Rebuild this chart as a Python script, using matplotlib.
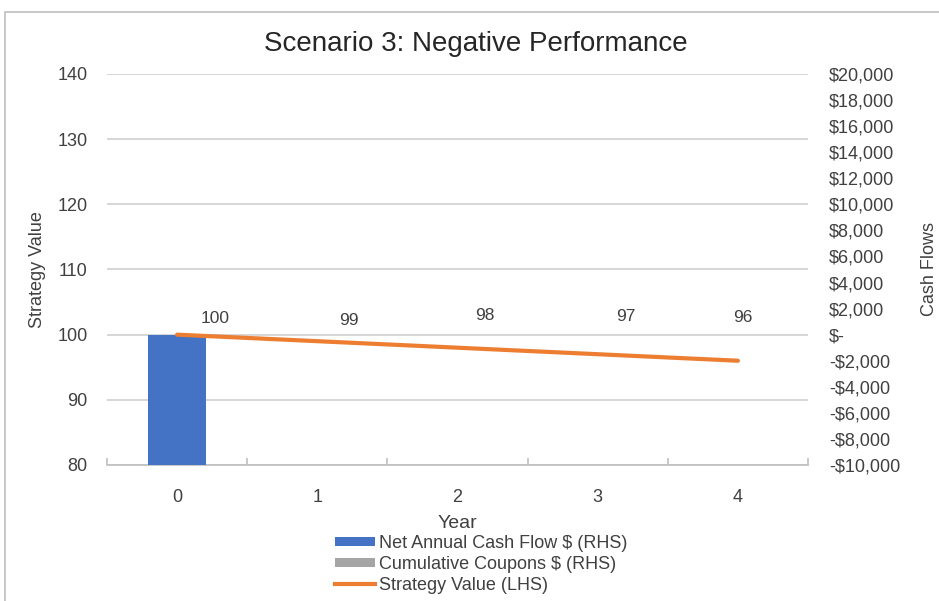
import numpy as np
import matplotlib
matplotlib.use('Agg')
import matplotlib.pyplot as plt
from matplotlib.patches import Patch, Rectangle
from matplotlib.lines import Line2D
from matplotlib.ticker import FixedLocator, FuncFormatter, MultipleLocator

plt.rcParams['font.family'] = ['Liberation Sans', 'DejaVu Sans']

# data
years = [0, 1, 2, 3, 4]
net_cash_flow = [-10000, 0, 0, 0, 0]
cum_coupons = [0, 0, 0, 0, 0]
strategy_value = [100, 99, 98, 97, 96]
value_labels = ['100', '99', '98', '97', '96']
# label placement (offset in pixels from each point), as in the source chart
label_offsets = [(38, 16), (32, 21), (27, 32), (28, 38), (5, 43)]

blue = '#4472C4'
grey = '#A5A5A5'
orange = '#ED7D31'
txt = '#404040'
gridc = '#D0D0D0'

fig = plt.figure(figsize=(9.39, 6.01), dpi=100)
W, H = 939, 601

# outer chart frame
fig.patches.append(Rectangle((5 / W, -0.1), 1.2, 1 - 12 / H + 0.1,
                             transform=fig.transFigure, fill=False,
                             edgecolor='#BFBFBF', lw=1.2))

ax_cf = fig.add_axes([107 / W, 1 - 465 / H, (808 - 107) / W, (465 - 74) / H])
ax_sv = ax_cf.twinx()

# cash flows (right axis)
bw = 0.41
ax_cf.bar(years, net_cash_flow, width=bw, color=blue, zorder=3)
ax_cf.bar(years, cum_coupons, width=bw, color=grey, zorder=3)
ax_cf.set_xlim(-0.5, 4.5)
ax_cf.set_ylim(-10000, 20000)
ax_cf.yaxis.tick_right()
ax_cf.yaxis.set_label_position('right')
ax_cf.yaxis.set_major_locator(MultipleLocator(2000))


def money(v, pos):
    v = int(round(v))
    if v == 0:
        return '$-'
    if v < 0:
        return '-${:,}'.format(-v)
    return '${:,}'.format(v)


ax_cf.yaxis.set_major_formatter(FuncFormatter(money))
ax_cf.yaxis.set_minor_locator(MultipleLocator(5000))
ax_cf.yaxis.remove_overlapping_locs = False
ax_cf.grid(True, which='minor', axis='y', color=gridc, lw=1.2, zorder=0)
ax_cf.set_axisbelow(True)
ax_cf.tick_params(axis='y', which='both', length=0, pad=15, labelsize=13,
                  labelcolor=txt)
for t in ax_cf.get_yticklabels():
    t.set_horizontalalignment('left')
ax_cf.set_ylabel('Cash Flows', fontsize=13, color=txt, labelpad=15)

ax_cf.set_xticks(years)
ax_cf.xaxis.set_minor_locator(FixedLocator(np.arange(-0.5, 5, 1)))
ax_cf.tick_params(axis='x', which='major', length=0, pad=17, labelsize=13,
                  labelcolor=txt)
ax_cf.tick_params(axis='x', which='minor', direction='in', length=5,
                  color='#BFBFBF', width=1.2)
ax_cf.set_xlabel('Year', fontsize=14, color=txt, labelpad=7)

for s in ['top', 'left', 'right']:
    ax_cf.spines[s].set_visible(False)
ax_cf.spines['bottom'].set_color('#BFBFBF')
ax_cf.spines['bottom'].set_linewidth(1.2)

# strategy value (left axis)
ax_sv.plot(years, strategy_value, color=orange, lw=3, solid_capstyle='round',
           zorder=4)
ax_sv.set_ylim(80, 140)
ax_sv.yaxis.tick_left()
ax_sv.yaxis.set_label_position('left')
ax_sv.set_yticks(np.arange(80, 141, 10))
ax_sv.tick_params(axis='y', length=0, pad=14, labelsize=13, labelcolor=txt)
ax_sv.set_ylabel('Strategy Value', fontsize=13, color=txt, labelpad=8)
for s in ax_sv.spines.values():
    s.set_visible(False)

for x, y, lab, off in zip(years, strategy_value, value_labels, label_offsets):
    ax_sv.annotate(lab, (x, y), xytext=off, textcoords='offset pixels',
                   ha='center', va='center', fontsize=12.5, color=txt)

fig.text(476 / W, 1 - 44 / H, 'Scenario 3: Negative Performance',
         ha='center', va='center', fontsize=20, color='#262626')

handles = [Patch(facecolor=blue), Patch(facecolor=grey),
           Line2D([0], [0], color=orange, lw=3)]
labels = ['Net Annual Cash Flow $ (RHS)', 'Cumulative Coupons $ (RHS)',
          'Strategy Value (LHS)']
fig.legend(handles, labels, loc='upper left',
           bbox_to_anchor=(335 / W, 1 - 535 / H), frameon=False,
           borderpad=0, borderaxespad=0, labelspacing=0.22, handlelength=2.2,
           handleheight=0.45, handletextpad=0.25, fontsize=13,
           labelcolor=txt)

fig.savefig('out.png', dpi=100)
